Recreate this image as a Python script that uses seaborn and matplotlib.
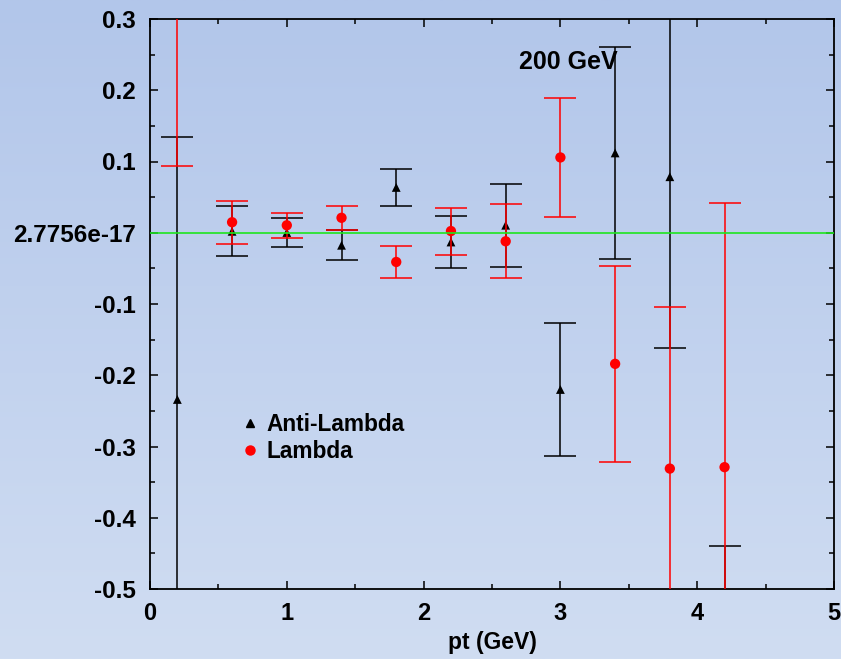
import numpy as np
import pandas as pd
import matplotlib
matplotlib.use("Agg")
import matplotlib.pyplot as plt
import seaborn as sns
from matplotlib.lines import Line2D
from matplotlib.colors import LinearSegmentedColormap

# ---- data ----
pt_anti = [0.2, 0.6, 1.0, 1.4, 1.8, 2.2, 2.6, 3.0, 3.4, 3.8, 4.2]
val_anti = [-0.234, 0.002, 0.0003, -0.0176, 0.0636, -0.013, 0.0105, -0.220, 0.112, 0.0786, -0.70]
err_anti = [0.368, 0.035, 0.020, 0.0213, 0.026, 0.037, 0.058, 0.094, 0.149, 0.241, 0.261]

pt_lam = [0.2, 0.6, 1.0, 1.4, 1.8, 2.2, 2.6, 3.0, 3.4, 3.8, 4.2]
val_lam = [0.45, 0.0148, 0.0105, 0.021, -0.041, 0.0024, -0.012, 0.1057, -0.184, -0.331, -0.329]
err_lam = [0.356, 0.030, 0.0176, 0.017, 0.023, 0.033, 0.052, 0.084, 0.138, 0.227, 0.371]

xticks = [0, 1, 2, 3, 4, 5]
yticks = [0.3, 0.2, 0.1, 0.0, -0.1, -0.2, -0.3, -0.4, -0.5]
ytick_labels = ["0.3", "0.2", "0.1", "2.7756e-17", "-0.1", "-0.2", "-0.3", "-0.4", "-0.5"]

df_anti = pd.DataFrame({"pt": pt_anti, "val": val_anti, "err": err_anti})
df_lam = pd.DataFrame({"pt": pt_lam, "val": val_lam, "err": err_lam})

sns.set_style("ticks")
plt.rcParams["font.family"] = ["Liberation Sans", "DejaVu Sans"]
plt.rcParams["font.weight"] = "bold"
plt.rcParams["text.color"] = "black"
plt.rcParams["xtick.color"] = "black"
plt.rcParams["ytick.color"] = "black"
plt.rcParams["xtick.labelcolor"] = "black"
plt.rcParams["ytick.labelcolor"] = "black"
plt.rcParams["axes.labelcolor"] = "black"

fig = plt.figure(figsize=(8.41, 6.59), dpi=100)

# gradient background
bg = fig.add_axes([0, 0, 1, 1], zorder=-10)
cmap = LinearSegmentedColormap.from_list("bg", ["#b2c6ea", "#d0ddf2"])
grad = np.linspace(0, 1, 256).reshape(-1, 1)
bg.imshow(grad, aspect="auto", cmap=cmap, extent=[0, 1, 0, 1], origin="upper")
bg.set_axis_off()

ax = fig.add_axes([150 / 841, 70 / 659, 684 / 841, 570 / 659])
ax.set_facecolor("none")

cap = 11.2
lw = 1.1
ax.errorbar(df_anti["pt"], df_anti["val"], yerr=df_anti["err"], fmt="none",
            ecolor="black", elinewidth=lw, capsize=cap, capthick=lw, zorder=2)
sns.scatterplot(data=df_anti, x="pt", y="val", marker="^", color="black",
                s=40, edgecolor="none", ax=ax, zorder=3, legend=False)
ax.errorbar(df_lam["pt"], df_lam["val"], yerr=df_lam["err"], fmt="none",
            ecolor="red", elinewidth=lw, capsize=cap, capthick=lw, zorder=4)
sns.scatterplot(data=df_lam, x="pt", y="val", marker="o", color="red",
                s=55, edgecolor="none", ax=ax, zorder=5, legend=False)

ax.axhline(0.0, color="#1ee61e", lw=1.2, zorder=6)

ax.set_xlim(0, 5)
ax.set_ylim(-0.5, 0.3)
ax.set_xticks(xticks)
ax.set_xticklabels([str(t) for t in xticks])
ax.set_yticks(yticks)
ax.set_yticklabels(ytick_labels)
ax.set_xticks(np.arange(0.5, 5, 1.0), minor=True)
ax.set_yticks(np.arange(-0.45, 0.3, 0.1), minor=True)
ax.tick_params(which="both", direction="in", top=True, right=True, width=1.1, color="black")
ax.tick_params(which="major", length=6)
ax.tick_params(which="minor", length=3.5)
ax.tick_params(axis="y", which="major", pad=10, labelsize=17.5, labelcolor="black")
ax.tick_params(axis="x", which="major", pad=9, labelsize=17, labelcolor="black")
for s in ax.spines.values():
    s.set_linewidth(1.3)
    s.set_color("black")

ax.set_xlabel("pt (GeV)", fontsize=16.5, fontweight="bold", labelpad=5, color="black")
ax.set_ylabel("")

ax.text(2.70, 0.239, "200 GeV", fontsize=18, fontweight="bold", ha="left",
        va="center", color="black")

handles = [
    Line2D([], [], marker="^", color="black", ls="none", markersize=6),
    Line2D([], [], marker="o", color="red", ls="none", markersize=6.5),
]
leg = ax.legend(handles, ["Anti-Lambda", "Lambda"], loc="center left",
                bbox_to_anchor=(0.12, 0.265), frameon=False, fontsize=16.3,
                handlelength=0.8, handletextpad=0.3, labelspacing=0.2,
                borderaxespad=0)
for t in leg.get_texts():
    t.set_color("black")

fig.savefig("out.png", dpi=100)
